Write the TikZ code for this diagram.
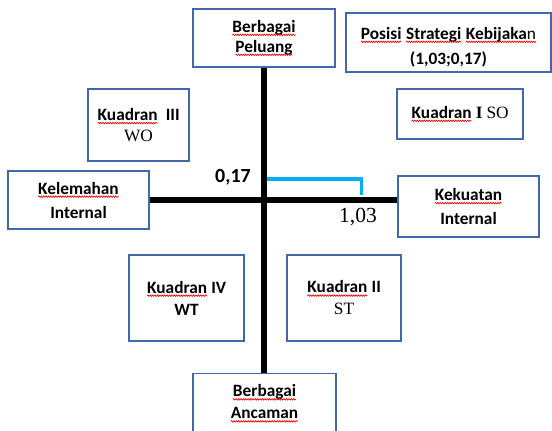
\documentclass[tikz,border=0pt]{standalone}
\usepackage{fontspec}
\setmainfont{Carlito}
\newfontfamily\tnr{Liberation Serif}
\usetikzlibrary{decorations.pathmorphing}
\definecolor{boxblue}{RGB}{65,105,170}
\definecolor{cyanline}{RGB}{0,176,240}
\newcommand\fsz{\fontsize{17.3bp}{21bp}\selectfont}
\tikzset{
  wordnode/.style={inner sep=0pt,outer sep=0pt,minimum width=0pt,minimum height=0pt,draw=none,fill=none,anchor=base,align=left,shape=rectangle},
  squig/.style={draw=red,line width=0.7bp,decorate,decoration={snake,amplitude=0.7bp,segment length=2.4bp}},
  qbox/.style={draw=boxblue,line width=1.3bp,fill=white,align=center,inner sep=0pt,font=\fsz},
  axisline/.style={line width=6bp,black},
  cyanpath/.style={line width=3.4bp,cyanline,line join=miter},
}
\newcommand\sq[1]{\tikz[baseline=(w.base),x=1bp,y=1bp]{\node[wordnode](w){#1};\path[squig]([yshift=-2.6bp]w.base west)--([yshift=-2.6bp]w.base east);}}
\begin{document}
\begin{tikzpicture}[x=1bp,y=-1bp]
\useasboundingbox (0,0) rectangle (552,430);
\node[qbox,minimum width=142bp,minimum height=58bp] (peluang) at (264,38) {\sq{\bfseries Berbagai}\\[-1bp]\sq{\bfseries Peluang}};
\node[qbox,minimum width=205bp,minimum height=59bp] (posisi) at (448.5,42.5) {\rule{0pt}{21bp}\sq{\bfseries Posisi} \sq{\bfseries Strategi} \sq{\bfseries Kebijaka{\mdseries n}}\\[4bp]\bfseries (1,03;0,17)};
\node[qbox,minimum width=126bp,minimum height=50bp] (k1) at (460,114) {\sq{\bfseries Kuadran} {\bfseries\tnr I} {\tnr SO}};
\node[qbox,minimum width=101bp,minimum height=72bp] (k3) at (138.5,125) {\sq{\bfseries Kuadran}\ \ {\bfseries III}\\{\tnr WO}};
\node[qbox,minimum width=141bp,minimum height=58bp] (kelemahan) at (78.5,200) {\sq{\bfseries Kelemahan}\\[3bp]\bfseries Internal};
\node[qbox,minimum width=141bp,minimum height=61bp] (kekuatan) at (468.5,206.5) {\sq{\bfseries Kekuatan}\\[3bp]\bfseries Internal};
\node[qbox,minimum width=115bp,minimum height=86bp] (k4) at (186.5,298) {\sq{\bfseries Kuadran} {\bfseries IV}\\[1bp]\bfseries WT};
\node[qbox,minimum width=114bp,minimum height=86bp] (k2) at (344,298) {\sq{\bfseries Kuadran} {\bfseries II}\\[1bp]{\tnr ST}};
\node[qbox,minimum width=143bp,minimum height=60bp] (ancaman) at (264.5,403.5) {\sq{\bfseries Berbagai}\\[1bp]\sq{\bfseries Ancaman}};
% axes
\draw[axisline] (peluang.south) -- (peluang.south |- ancaman.north);
\draw[axisline] (kelemahan.east) -- (kelemahan.east -| kekuatan.west);
% position marker
\coordinate (c0) at (267,179);
\coordinate (c1) at (361.5,179);
\coordinate (c2) at (361.5,195);
\draw[cyanpath] (c0) -- (c1) -- (c2);
\node[font=\fontsize{20bp}{24bp}\selectfont\bfseries] (lab017) at (233,177) {0,17};
\node[font=\fontsize{21.5bp}{25bp}\selectfont\tnr] (lab103) at (358,217) {1,03};
\end{tikzpicture}
\end{document}
